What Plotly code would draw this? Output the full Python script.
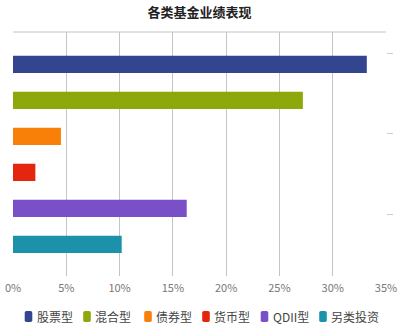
import plotly.graph_objects as go

categories = ["股票型", "混合型", "债券型", "货币型", "QDII型", "另类投资"]
values = [33.2, 27.2, 4.5, 2.1, 16.3, 10.2]
colors = ["#33458E", "#8DA80A", "#F98008", "#E4260E", "#7A50C8", "#1E91AA"]
x_ticks = [0, 5, 10, 15, 20, 25, 30, 35]

W, H = 399, 330
ML, MR, MT, MB = 13, 13, 32, 54
PW, PH = W - ML - MR, H - MT - MB

fig = go.Figure()
for c, v, col in zip(categories, values, colors):
    fig.add_trace(go.Bar(
        y=[c], x=[v], orientation="h", name=c,
        marker=dict(color=col, line=dict(width=0)),
        width=0.48, showlegend=False,
    ))
# empty trace so that the right-hand tick axis is drawn
fig.add_trace(go.Scatter(x=[], y=[], yaxis="y2", showlegend=False, hoverinfo="skip"))

font_family = "Noto Sans CJK SC, Noto Sans, sans-serif"

# custom one-row legend (layout positions in pixels of the page)
legend_symbol_px = [28.5, 87, 148, 206, 264.5, 323]
legend_y_px = 316.5
ly = -(legend_y_px - (H - MB)) / PH
shapes = [dict(type="line", xref="paper", yref="paper", x0=0, x1=1, y0=1, y1=1,
               line=dict(color="#c4c4c4", width=1))]
annotations = []
rr = "M -2,-5.5 L 2,-5.5 Q 3.8,-5.5 3.8,-3.7 L 3.8,3.7 Q 3.8,5.5 2,5.5 L -2,5.5 Q -3.8,5.5 -3.8,3.7 L -3.8,-3.7 Q -3.8,-5.5 -2,-5.5 Z"
for c, col, sx in zip(categories, colors, legend_symbol_px):
    ax = (sx - ML) / PW
    shapes.append(dict(type="path", xref="paper", yref="paper",
                       xsizemode="pixel", ysizemode="pixel", xanchor=ax, yanchor=ly,
                       path=rr, fillcolor=col, line=dict(width=0)))
    annotations.append(dict(text=c, xref="paper", yref="paper",
                            x=(sx + 7 - ML) / PW, y=ly, xanchor="left", yanchor="middle",
                            showarrow=False, borderpad=0,
                            font=dict(family=font_family, size=12, color="#444")))

fig.update_layout(
    width=W, height=H,
    margin=dict(l=ML, r=MR, t=MT, b=MB, autoexpand=False),
    paper_bgcolor="white", plot_bgcolor="white",
    barmode="overlay",
    title=dict(text="<b>各类基金业绩表现</b>", x=0.5, xanchor="center",
               y=0.962, yanchor="middle",
               font=dict(family=font_family, size=13, color="#222")),
    font=dict(family=font_family, color="#777"),
    xaxis=dict(range=[0, 35], tickvals=x_ticks,
               ticktext=[f"{t}%" for t in x_ticks],
               showgrid=True, gridcolor="#c4c4c4", gridwidth=1,
               zeroline=False, showline=False, automargin=False,
               tickfont=dict(size=11, color="#777"), ticks="",
               ticklabelstandoff=4),
    yaxis=dict(categoryorder="array", categoryarray=categories,
               range=[5.88, -0.9], showticklabels=False, automargin=False,
               showgrid=False, zeroline=False, showline=False),
    yaxis2=dict(overlaying="y", side="right", range=[0, 1],
                tickvals=[0.252, 0.582, 0.912], showticklabels=False,
                ticks="outside", ticklen=6, tickcolor="#d0d0d0",
                showgrid=False, zeroline=False, showline=False, automargin=False),
    showlegend=False,
    shapes=shapes,
    annotations=annotations,
)

fig.write_html("out.html")
